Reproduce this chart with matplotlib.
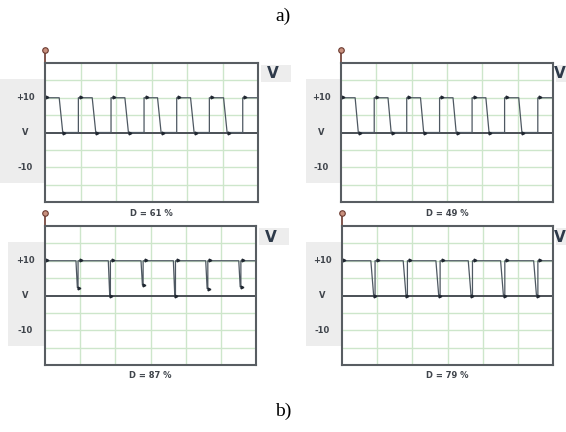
"""
Oscilogramas PWM: cuatro capturas con distinto ciclo de trabajo D.
"""
import matplotlib
matplotlib.use('Agg')
import matplotlib.pyplot as plt
from matplotlib.patches import Rectangle

# ── Datos (divisiones horizontales 0..6, voltios -20..+20) ──
DUTY_LABELS = ['D = 61 %', 'D = 49 %', 'D = 87 %', 'D = 79 %']

RISE_X = [0.0, 0.94, 1.86, 2.79, 3.71, 4.63, 5.57]   # flancos de subida
HIGH_V = 10.0
START_V = [6.0, 6.0, 6.5, 7.0]                        # nivel al inicio de la traza

# flancos de bajada: inicio, fin y nivel mínimo alcanzado
FALL_START = [
    [0.40, 1.33, 2.25, 3.17, 4.10, 5.03],
    [0.40, 1.33, 2.25, 3.17, 4.10, 5.03],
    [0.88, 1.80, 2.73, 3.65, 4.57, 5.51],
    [0.82, 1.74, 2.67, 3.59, 4.51, 5.45],
]
FALL_END = [
    [0.50, 1.43, 2.35, 3.27, 4.20, 5.13],
    [0.49, 1.42, 2.34, 3.26, 4.19, 5.12],
    [0.92, 1.84, 2.77, 3.69, 4.61, 5.55],
    [0.90, 1.82, 2.75, 3.67, 4.59, 5.53],
]
LOW_V = [
    [0, 0, 0, 0, 0, 0],
    [0, 0, 0, 0, 0, 0],
    [2.3, 0, 3.0, 0, 2.0, 2.5],
    [0, 0, 0, 0, 0, 0],
]

# ── Geometría en píxeles de la imagen (x0, y0, x1, y1) ──
W, H = 566, 432
BOXES = [
    (45, 63, 258, 202),
    (341, 63, 553, 202),
    (45, 226, 256, 365),
    (342, 226, 553, 365),
]
LABEL_BG_X0 = [0, 306, 8, 306]

TRACE = '#4e5862'
FRAME = '#585d62'
GRID = '#cde6cb'
PANEL_BG = '#ededed'
TXT = '#3f444b'

fig = plt.figure(figsize=(W / 100, H / 100), dpi=100)
fig.patch.set_facecolor('white')

# capa de fondo en coordenadas de píxel
bg = fig.add_axes([0, 0, 1, 1])
bg.set_xlim(0, W)
bg.set_ylim(H, 0)
bg.axis('off')


def v2py(v, y0, y1):
    return y0 + (20 - v) / 40 * (y1 - y0)


for k, (x0, y0, x1, y1) in enumerate(BOXES):
    # fondo gris de las etiquetas
    gy0, gy1 = v2py(15.4, y0, y1), v2py(-14.5, y0, y1)
    bg.add_patch(Rectangle((LABEL_BG_X0[k], gy0), x0 - LABEL_BG_X0[k], gy1 - gy0,
                           facecolor=PANEL_BG, edgecolor='none'))
    # recuadro "V"
    bg.add_patch(Rectangle((x1 + 3, y0 + 2), 30, 17, facecolor=PANEL_BG, edgecolor='none'))
    vx = min(x1 + 15, W - 6)
    bg.text(vx, y0 + 11, 'V', ha='center', va='center', fontsize=11,
            fontweight='bold', color='#2e3a4a')
    # etiquetas de eje
    for v, s in [(10, '+10'), (0, 'V'), (-10, '-10')]:
        bg.text(x0 - 20, v2py(v, y0, y1), s, ha='center', va='center',
                fontsize=6, fontweight='bold', color=TXT)
    # marcador de la sonda
    bg.plot([x0, x0], [y0 - 11, y0], color='#6b3a30', lw=1.2, solid_capstyle='butt')
    bg.plot([x0], [y0 - 13], marker='o', ms=4, mfc='#c9907e', mec='#6b3a30', mew=0.8)
    # pie: ciclo de trabajo
    bg.text((x0 + x1) / 2, y1 + 11, DUTY_LABELS[k], ha='center', va='center',
            fontsize=6, fontweight='bold', color=TXT)

    # panel del osciloscopio
    ax = fig.add_axes([x0 / W, 1 - y1 / H, (x1 - x0) / W, (y1 - y0) / H])
    ax.set_xlim(0, 6)
    ax.set_ylim(-20, 20)
    ax.set_xticks([])
    ax.set_yticks([])
    for xv in range(1, 6):
        ax.axvline(xv, color=GRID, lw=1.0)
    for yv in (-15, -10, -5, 5, 10, 15):
        ax.axhline(yv, color=GRID, lw=1.0)
    ax.axhline(0, color='#4a4f55', lw=1.4)
    for sp in ax.spines.values():
        sp.set_color(FRAME)
        sp.set_linewidth(1.5)

    xs, ys = [0.0, 0.0], [START_V[k], HIGH_V]
    for i in range(len(FALL_START[k])):
        xs += [FALL_START[k][i], FALL_END[k][i], RISE_X[i + 1], RISE_X[i + 1]]
        ys += [HIGH_V, LOW_V[k][i], LOW_V[k][i], HIGH_V]
    xs.append(6.0)
    ys.append(HIGH_V)
    ax.plot(xs, ys, color=TRACE, lw=0.9, clip_on=True)
    # marcadores de medida
    ax.plot([x + 0.07 for x in RISE_X], [HIGH_V + 0.3] * len(RISE_X), ls='none',
            marker='>', ms=2.0, color='#1f2630')
    ax.plot([x + 0.04 for x in FALL_END[k]], LOW_V[k], ls='none',
            marker='>', ms=2.0, color='#1f2630')

bg.text(283, 16, 'a)', ha='center', va='center', fontsize=14,
        family='Liberation Serif', color='black')
bg.text(283, 411, 'b)', ha='center', va='center', fontsize=14,
        family='Liberation Serif', color='black')

fig.savefig('out.png', dpi=100)
